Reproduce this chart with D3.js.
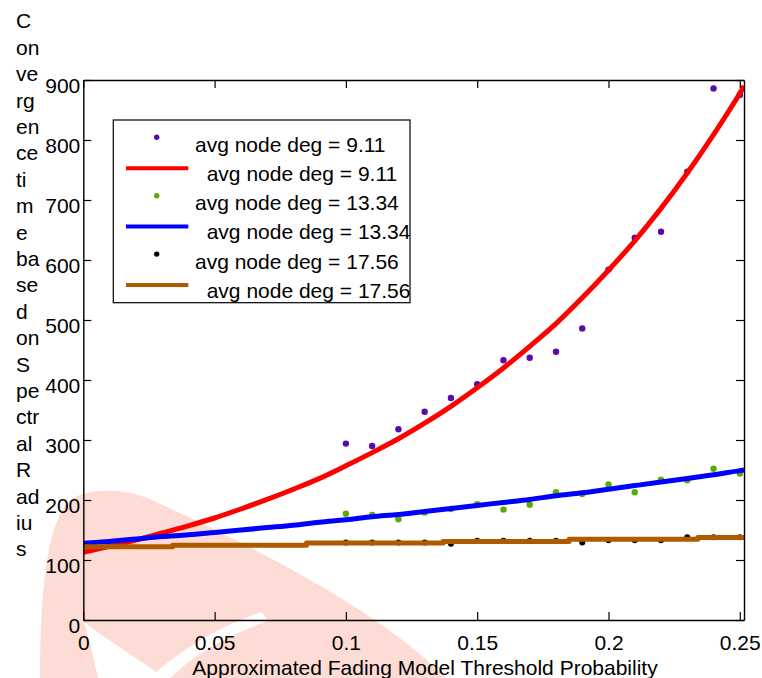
<!DOCTYPE html>
<html>
<head>
<meta charset="utf-8">
<script src="https://cdn.jsdelivr.net/npm/d3@7"></script>
<style>
  body { margin: 0; background: #fff; }
  svg { display: block; font-family: Arial, "Liberation Sans", Helvetica, sans-serif; }
</style>
</head>
<body>
<svg id="chart" width="762" height="678"></svg>
<script>
// measured points (avg node degree series)
var sampleX = [0.10, 0.11, 0.12, 0.13, 0.14, 0.15, 0.16, 0.17, 0.18, 0.19, 0.20, 0.21, 0.22, 0.23, 0.24, 0.25];
var pts911 = [294, 290, 318, 347, 370, 393, 433, 437, 447, 486, 584, 637, 647, 747, 886, 875];
var pts1334 = [177, 175, 168, 179, 185, 193, 184, 192, 213, 210, 226, 213, 234, 233, 252, 244];
var pts1756 = [129, 129, 129, 129, 127, 132, 132, 132, 132, 129, 133, 133, 133, 138, 138, 138];

// fitted curves
var fitX = [0, 0.01, 0.02, 0.03, 0.04, 0.05, 0.06, 0.07, 0.08, 0.09, 0.10, 0.11, 0.12, 0.13,
            0.14, 0.15, 0.16, 0.17, 0.18, 0.19, 0.20, 0.21, 0.22, 0.23, 0.24, 0.25, 0.2516];
var fit911 = [113, 123, 133, 145, 157, 170, 185, 201, 218, 236, 257, 279, 302, 328,
              356, 387, 420, 456, 494, 537, 583, 632, 686, 745, 809, 878, 890];
var fit1334 = [128, 131, 135, 139, 142, 146, 150, 154, 158, 163, 167, 172, 176, 181,
               186, 191, 196, 201, 207, 212, 218, 224, 230, 236, 242, 249, 250];
var fit1756X = [0, 0.034, 0.085, 0.137, 0.185, 0.234, 0.2516];
var fit1756 = [122, 124.5, 128.5, 131, 134.5, 137.5, 137.5];

var xTicks = [0, 0.05, 0.1, 0.15, 0.2, 0.25];
var yTicks = [0, 100, 200, 300, 400, 500, 600, 700, 800, 900];
var legendLabels = ["avg node deg = 9.11", " avg node deg = 9.11",
                    "avg node deg = 13.34", " avg node deg = 13.34",
                    "avg node deg = 17.56", " avg node deg = 17.56"];
var yLabelParts = ["C", "on", "ve", "rg", "en", "ce", "ti", "m", "e", "ba", "se", "d", "on",
                   "S", "pe", "ctr", "al", "R", "ad", "iu", "s"];
var xLabel = "Approximated Fading Model Threshold Probability";

var cfg = {
    left: 83.3, right: 744, top: 80, bottom: 620,
    fontSize: 21,
    purple: "#5a0aaa", green: "#5aaa0a", brown: "#b05a00"
};

var svg = d3.select("#chart");

// faint watermark in the background of the source picture
var wm = svg.append("g").attr("id", "watermark");
wm.append("path")
    .attr("d", "M40,678 C40,610 44,530 68,502 C84,488 120,486 152,500 C250,545 380,610 446,678 Z")
    .attr("fill", "#fddcd6");
wm.append("path")
    .attr("d", "M84,622 C110,642 140,660 165,678 L98,678 C94,658 89,640 84,622 Z")
    .attr("fill", "#fff");
wm.append("path")
    .attr("d", "M150,678 C180,650 220,626 262,612 L268,621 C226,636 192,656 170,678 Z")
    .attr("fill", "#fff");

var x = d3.scaleLinear().domain([0, 0.2516]).range([cfg.left, cfg.right]);
var y = d3.scaleLinear().domain([0, 900]).range([cfg.bottom, cfg.top]);

svg.append("defs").append("clipPath").attr("id", "plotClip")
    .append("rect")
    .attr("x", cfg.left).attr("y", cfg.top)
    .attr("width", cfg.right - cfg.left).attr("height", cfg.bottom - cfg.top);

var plot = svg.append("g").attr("clip-path", "url(#plotClip)");

var smooth = d3.line()
    .x(function (d) { return x(d[0]); })
    .y(function (d) { return y(d[1]); })
    .curve(d3.curveMonotoneX);
var steps = d3.line()
    .x(function (d) { return x(d[0]); })
    .y(function (d) { return y(d[1]); })
    .curve(d3.curveStepAfter);

function drawDots(vals, color, r) {
    plot.append("g").selectAll("circle")
        .data(d3.zip(sampleX, vals))
        .enter()
        .append("circle")
        .attr("cx", function (d) { return x(d[0]); })
        .attr("cy", function (d) { return y(d[1]); })
        .attr("r", r)
        .attr("fill", color);
}

function drawLine(xs, vals, color, gen) {
    plot.append("path")
        .datum(d3.zip(xs, vals))
        .attr("d", gen)
        .attr("fill", "none")
        .attr("stroke", color)
        .attr("stroke-width", 5)
        .attr("stroke-linejoin", "round");
}

drawDots(pts911, cfg.purple, 3.2);
drawLine(fitX, fit911, "#ff0000", smooth);
drawDots(pts1334, cfg.green, 3.2);
drawLine(fitX, fit1334, "#0000ff", smooth);
drawDots(pts1756, "#000", 3);
drawLine(fit1756X, fit1756, cfg.brown, steps);

// axes, ticks pointing inward on all four sides
var tickLen = 8;
var gx = svg.append("g")
    .attr("transform", "translate(0," + cfg.bottom + ")")
    .call(d3.axisBottom(x).tickValues(xTicks).tickSizeInner(-tickLen).tickSizeOuter(0)
        .tickFormat(function (d) { return String(d); }));
gx.selectAll("text").attr("y", 30).attr("dy", 0);

var gy = svg.append("g")
    .attr("transform", "translate(" + cfg.left + ",0)")
    .call(d3.axisLeft(y).tickValues(yTicks).tickSizeInner(-tickLen).tickSizeOuter(0)
        .tickFormat(function (d) { return String(d); }));
gy.selectAll("text").attr("x", -3).attr("dy", 12.5);

svg.append("g")
    .attr("transform", "translate(0," + cfg.top + ")")
    .call(d3.axisTop(x).tickValues(xTicks).tickSizeInner(-tickLen).tickSizeOuter(0).tickFormat(""));
svg.append("g")
    .attr("transform", "translate(" + cfg.right + ",0)")
    .call(d3.axisRight(y).tickValues(yTicks).tickSizeInner(-tickLen).tickSizeOuter(0).tickFormat(""));

svg.selectAll(".tick text")
    .attr("font-size", cfg.fontSize)
    .attr("font-family", "Arial, 'Liberation Sans', sans-serif")
    .attr("fill", "#000");
svg.selectAll(".tick line").attr("stroke", "#000").attr("stroke-width", 1.2);
svg.selectAll(".domain").attr("stroke", "#000").attr("stroke-width", 1.4);

// x label
svg.append("text")
    .attr("x", 425)
    .attr("y", 674.5)
    .attr("text-anchor", "middle")
    .attr("font-size", cfg.fontSize)
    .text(xLabel);

// broken-up y label, one fragment per line
svg.append("g").selectAll("text")
    .data(yLabelParts)
    .enter()
    .append("text")
    .attr("x", 16)
    .attr("y", function (d, i) { return 28.3 + i * 26.4; })
    .attr("font-size", cfg.fontSize)
    .text(function (d) { return d; });

// legend
var legendColors = [cfg.purple, "#ff0000", cfg.green, "#0000ff", "#000", cfg.brown];
var legend = svg.append("g");
legend.append("rect")
    .attr("x", 113.3).attr("y", 120)
    .attr("width", 296.7).attr("height", 182.7)
    .attr("fill", "#fff")
    .attr("stroke", "#000")
    .attr("stroke-width", 1.2);

var rowH = 29.2;
legend.selectAll("g.entry")
    .data(legendLabels)
    .enter()
    .append("g")
    .attr("class", "entry")
    .each(function (d, i) {
        var g = d3.select(this);
        var base = 151.7 + i * rowH;
        if (i % 2 === 0) {
            g.append("circle")
                .attr("cx", 156.7).attr("cy", base - 14.4)
                .attr("r", 2.7)
                .attr("fill", legendColors[i]);
            g.append("text").attr("x", 195).attr("y", base)
                .attr("font-size", cfg.fontSize).attr("xml:space", "preserve").text(d.trim());
        } else {
            g.append("line")
                .attr("x1", 126).attr("x2", 188.3)
                .attr("y1", base - 12.7).attr("y2", base - 12.7)
                .attr("stroke", legendColors[i])
                .attr("stroke-width", 4);
            g.append("text").attr("x", 206.7).attr("y", base)
                .attr("font-size", cfg.fontSize).text(d.trim());
        }
    });
</script>
</body>
</html>
